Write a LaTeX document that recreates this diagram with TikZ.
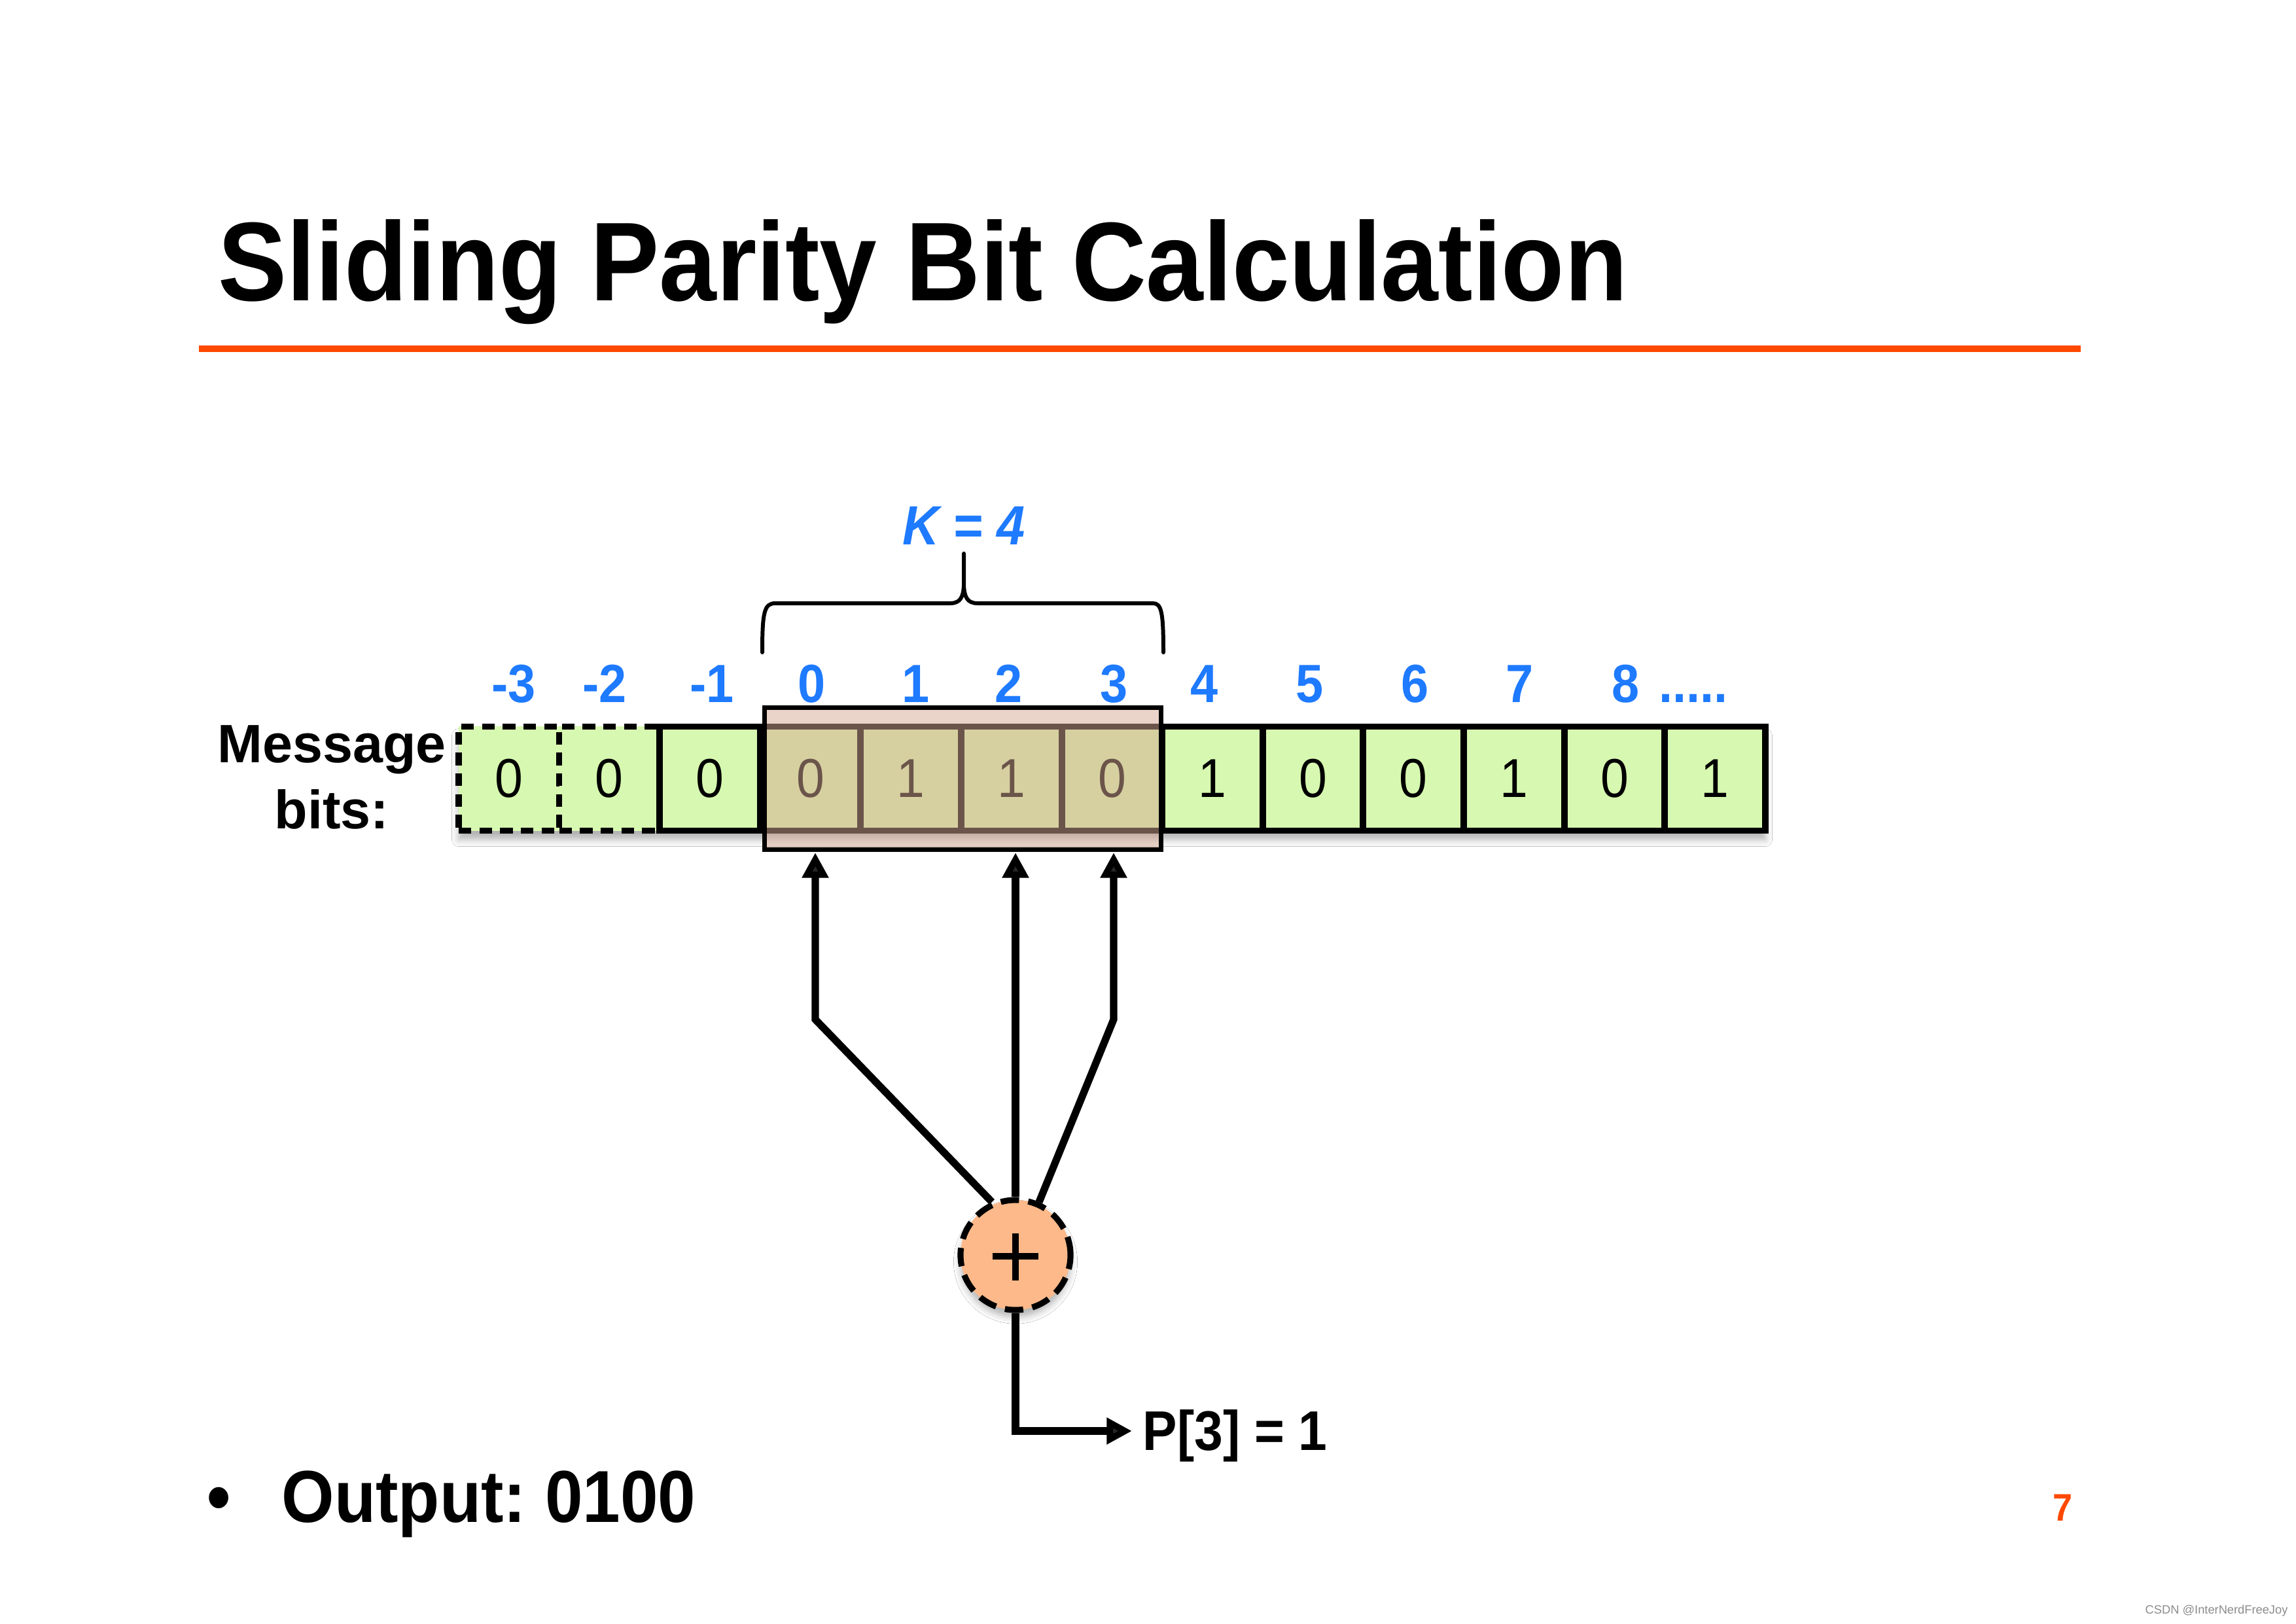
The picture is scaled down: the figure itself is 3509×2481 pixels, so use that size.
\documentclass[tikz,border=0pt]{standalone}
\usepackage{fontspec}
\setmainfont{Liberation Sans}[FakeStretch=0.92]
\newfontfamily\wmfont{Liberation Sans}
\usetikzlibrary{arrows.meta,shadows.blur,calc}
\definecolor{slideorange}{RGB}{255,72,0}
\definecolor{labelblue}{RGB}{30,122,255}
\definecolor{cellgreen}{RGB}{215,248,176}
\definecolor{winfill}{RGB}{214,170,148}
\definecolor{xorfill}{RGB}{253,185,138}
\definecolor{wmgray}{RGB}{140,140,140}
\frenchspacing
\begin{document}
\begin{tikzpicture}[x=0.01cm,y=-0.01cm,
  cellbox/.style={draw=black, line width=2.8pt, fill=cellgreen, minimum width=1.536cm, minimum height=1.59cm, inner sep=0pt, font=\fontsize{23.8}{28}\selectfont},
  padbox/.style={cellbox, dash pattern=on 5.5pt off 3.5pt},
  idx/.style={text=labelblue, font=\fontsize{23.4}{28}\selectfont\bfseries, inner sep=0pt, anchor=base},
  winbox/.style={draw=black, line width=2pt, fill=winfill, fill opacity=0.5, minimum width=6.06cm, minimum height=2.16cm, inner sep=0pt},
  feed/.style={line width=3.2pt, -{Triangle[length=11pt,width=11pt]}},
  xornode/.style={circle, draw=black, line width=2.6pt, dash pattern=on 8pt off 4pt, fill=xorfill, minimum size=1.68cm, inner sep=0pt,
     blur shadow={shadow xshift=0pt, shadow yshift=-3pt, shadow opacity=30, shadow blur radius=3pt}},
  bold/.style={inner sep=0pt, font=\fontsize{24.3}{28.5}\selectfont\bfseries}
]
\useasboundingbox (0,0) rectangle (3509,2481);
\fill[white] (0,0) rectangle (3509,2481);

% title
\node[anchor=base west, inner sep=0pt, font=\fontsize{48.7}{58}\selectfont\bfseries] (title) at (333,459) {Sliding Parity Bit Calculation};
\draw[slideorange, line width=2.7pt] (304,533) -- (3180,533);

% row shadow backdrop
\fill[cellgreen, blur shadow={shadow xshift=0pt, shadow yshift=-4pt, shadow opacity=30, shadow blur radius=3pt}] (701,1110) rectangle (2698,1269);

% cells
\foreach \v [count=\n from 0] in {0,0}
  \node[padbox] (c\n) at ({777.8+153.6*\n},1190) {\v};
\foreach \v [count=\n from 2] in {0,0,1,1,0,1,0,0,1,0,1}
  \node[cellbox] (c\n) at ({777.8+153.6*\n},1190) {\v};

% window
\node[winbox] (win) at (1471.5,1190) {};

% indices
\foreach \t/\x in {-3/785,-2/924,-1/1088,0/1241,1/1400,2/1542,3/1703,4/1841,5/2002,6/2163,7/2323,8/2485}
  \node[idx] (i\x) at (\x,1073) {\t};
\node[idx, anchor=base west] (dots) at (2535,1073) {.....};

% brace and K
\draw[line width=1.7pt, line cap=round]
  (1165,997) .. controls (1165,935) and (1168,922) .. (1185,922) -- (1452,922)
  .. controls (1468,922) and (1472,912) .. (1473,895) -- (1473,846);
\draw[line width=1.7pt, line cap=round]
  (1473,895) .. controls (1474,912) and (1478,922) .. (1494,922) -- (1762,922)
  .. controls (1775,922) and (1778,935) .. (1778,997);
\node[idx, font=\fontsize{24}{28}\selectfont\bfseries\itshape] (k) at (1473,832) {K = 4};

% message bits label
\node[align=center, inner sep=0pt, font=\wmfont\fontsize{23.5}{28.5}\selectfont\bfseries] (msg) at (507,1188) {Message\\bits:};

% xor
\node[xornode] (xor) at (1552,1918) {};
\draw[line width=2.6pt] ($(xor.center)+(-35,2)$) -- ($(xor.center)+(35,2)$);
\draw[line width=2.6pt] ($(xor.center)+(0,-33)$) -- ($(xor.center)+(0,39)$);

\coordinate (bendL) at (1246,1558);
\coordinate (tipL) at (1246,1303);
\coordinate (tipM) at (1552,1303);
\coordinate (bendR) at (1702,1558);
\coordinate (tipR) at (1702,1303);
\draw[feed] (xor.114) -- (bendL) -- (tipL);
\draw[feed] (xor.north) -- (tipM);
\draw[feed] (xor.66) -- (bendR) -- (tipR);

% output
\node[bold, anchor=base west] (pout) at (1746,2216) {P[3] = 1};
\coordinate (outend) at (1730,2187);
\draw[feed] (xor.south) |- (outend);

% bullet
\node[anchor=base, inner sep=0pt, font=\fontsize{32}{38}\selectfont\bfseries] (bullet) at (335,2326) {•};
\node[anchor=base west, inner sep=0pt, font=\fontsize{32}{38}\selectfont\bfseries] (out) at (430,2326) {Output: 0100};

% page number and watermark
\node[anchor=base, inner sep=0pt, text=slideorange, font=\fontsize{16.7}{20}\selectfont\bfseries] (pg) at (3152,2324) {7};
\node[anchor=base west, inner sep=0pt, text=wmgray, font=\wmfont\fontsize{5.2}{7}\selectfont] (wm) at (3278,2466) {CSDN @InterNerdFreeJoy};
\end{tikzpicture}
\end{document}
